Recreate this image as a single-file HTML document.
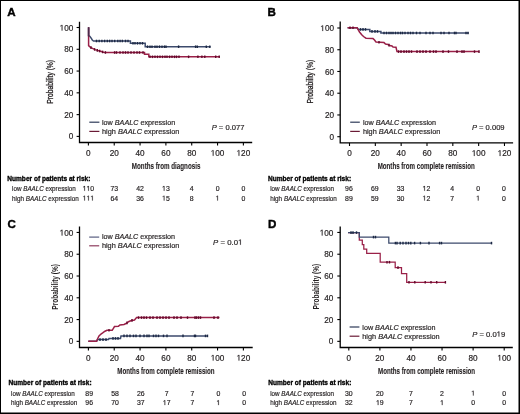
<!DOCTYPE html>
<html><head><meta charset="utf-8"><style>
html,body{margin:0;padding:0;background:#fff;}
body{width:520px;height:414px;overflow:hidden;}
svg{display:block;will-change:transform;font-family:"Liberation Sans", sans-serif;}
</style></head><body>
<svg width="520" height="414" viewBox="0 0 520 414" fill="#231f20">
<style>text{stroke:#231f20;stroke-width:0.18px;}</style>
<rect x="0" y="0" width="520" height="414" fill="#fff"/>
<path d="M79.50 21.70 V142.50 H252.20" fill="none" stroke="#000" stroke-width="1.3"/>
<line x1="76.60" y1="27.50" x2="79.50" y2="27.50" stroke="#000" stroke-width="1.1"/>
<path d="M515 0L515 1237L197 1010L197 1180L530 1409L696 1409L696 0Z" transform="translate(59.62 30.55) scale(0.00400 -0.00400)" stroke="#231f20" stroke-width="0.18" vector-effect="non-scaling-stroke"/>
<text x="73.30" y="30.55" font-size="8.2" text-anchor="end"> 00</text>
<line x1="76.60" y1="49.28" x2="79.50" y2="49.28" stroke="#000" stroke-width="1.1"/>
<text x="73.30" y="52.33" font-size="8.2" text-anchor="end">80</text>
<line x1="76.60" y1="71.06" x2="79.50" y2="71.06" stroke="#000" stroke-width="1.1"/>
<text x="73.30" y="74.11" font-size="8.2" text-anchor="end">60</text>
<line x1="76.60" y1="92.84" x2="79.50" y2="92.84" stroke="#000" stroke-width="1.1"/>
<text x="73.30" y="95.89" font-size="8.2" text-anchor="end">40</text>
<line x1="76.60" y1="114.62" x2="79.50" y2="114.62" stroke="#000" stroke-width="1.1"/>
<text x="73.30" y="117.67" font-size="8.2" text-anchor="end">20</text>
<line x1="76.60" y1="136.40" x2="79.50" y2="136.40" stroke="#000" stroke-width="1.1"/>
<text x="73.30" y="139.45" font-size="8.2" text-anchor="end">0</text>
<line x1="88.40" y1="142.50" x2="88.40" y2="145.60" stroke="#000" stroke-width="1.1"/>
<text x="88.40" y="155.80" font-size="8.2" text-anchor="middle">0</text>
<line x1="114.23" y1="142.50" x2="114.23" y2="145.60" stroke="#000" stroke-width="1.1"/>
<text x="114.23" y="155.80" font-size="8.2" text-anchor="middle">20</text>
<line x1="140.06" y1="142.50" x2="140.06" y2="145.60" stroke="#000" stroke-width="1.1"/>
<text x="140.06" y="155.80" font-size="8.2" text-anchor="middle">40</text>
<line x1="165.89" y1="142.50" x2="165.89" y2="145.60" stroke="#000" stroke-width="1.1"/>
<text x="165.89" y="155.80" font-size="8.2" text-anchor="middle">60</text>
<line x1="191.72" y1="142.50" x2="191.72" y2="145.60" stroke="#000" stroke-width="1.1"/>
<text x="191.72" y="155.80" font-size="8.2" text-anchor="middle">80</text>
<line x1="217.55" y1="142.50" x2="217.55" y2="145.60" stroke="#000" stroke-width="1.1"/>
<path d="M515 0L515 1237L197 1010L197 1180L530 1409L696 1409L696 0Z" transform="translate(210.71 155.80) scale(0.00400 -0.00400)" stroke="#231f20" stroke-width="0.18" vector-effect="non-scaling-stroke"/>
<text x="217.55" y="155.80" font-size="8.2" text-anchor="middle"> 00</text>
<line x1="243.38" y1="142.50" x2="243.38" y2="145.60" stroke="#000" stroke-width="1.1"/>
<path d="M515 0L515 1237L197 1010L197 1180L530 1409L696 1409L696 0Z" transform="translate(236.54 155.80) scale(0.00400 -0.00400)" stroke="#231f20" stroke-width="0.18" vector-effect="non-scaling-stroke"/>
<text x="243.38" y="155.80" font-size="8.2" text-anchor="middle"> 20</text>
<text x="166.10" y="169.40" font-size="8.7" text-anchor="middle" font-weight="bold" textLength="68.5" lengthAdjust="spacingAndGlyphs" style="stroke-width:0.12px">Months from diagnosis</text>
<text x="0" y="0" font-size="8.3" text-anchor="middle" font-weight="normal" textLength="43.8" lengthAdjust="spacingAndGlyphs" style="stroke-width:0.3px" transform="translate(52.90 81.80) rotate(-90)">Probability (%)</text>
<text x="7.30" y="15.60" font-size="11.6" text-anchor="start" font-weight="bold" fill="#000" style="stroke:#000;stroke-width:0.4px">A</text>
<line x1="89.30" y1="122.20" x2="99.40" y2="122.20" stroke="#2e3a58" stroke-width="1.2"/>
<line x1="89.30" y1="131.40" x2="99.40" y2="131.40" stroke="#6a1a35" stroke-width="1.2"/>
<text x="102.00" y="124.60" font-size="7.4" textLength="73.2" lengthAdjust="spacingAndGlyphs">low <tspan font-style="italic">BAALC</tspan> expression</text>
<text x="102.00" y="133.80" font-size="7.4" textLength="77.4" lengthAdjust="spacingAndGlyphs">high <tspan font-style="italic">BAALC</tspan> expression</text>
<text x="211.70" y="130.20" font-size="7.4" textLength="32.7" lengthAdjust="spacingAndGlyphs"><tspan font-style="italic">P</tspan> = 0.077</text>
<text x="7.30" y="180.50" font-size="6.4" text-anchor="start" font-weight="bold" textLength="83.1" lengthAdjust="spacingAndGlyphs" fill="#000" style="stroke:#000;stroke-width:0.3px">Number of patients at risk:</text>
<text x="12.10" y="190.80" font-size="6.9" textLength="63.7" lengthAdjust="spacingAndGlyphs">low <tspan font-style="italic">BAALC</tspan> expression</text>
<text x="12.10" y="200.50" font-size="6.9" textLength="66.7" lengthAdjust="spacingAndGlyphs">high <tspan font-style="italic">BAALC</tspan> expression</text>
<path d="M515 0L515 1237L197 1010L197 1180L530 1409L696 1409L696 0Z" transform="translate(82.64 190.80) scale(0.00337 -0.00337)" stroke="#231f20" stroke-width="0.18" vector-effect="non-scaling-stroke"/>
<path d="M515 0L515 1237L197 1010L197 1180L530 1409L696 1409L696 0Z" transform="translate(86.48 190.80) scale(0.00337 -0.00337)" stroke="#231f20" stroke-width="0.18" vector-effect="non-scaling-stroke"/>
<text x="88.40" y="190.80" font-size="6.9" text-anchor="middle">  0</text>
<text x="114.23" y="190.80" font-size="6.9" text-anchor="middle">73</text>
<text x="140.06" y="190.80" font-size="6.9" text-anchor="middle">42</text>
<path d="M515 0L515 1237L197 1010L197 1180L530 1409L696 1409L696 0Z" transform="translate(162.05 190.80) scale(0.00337 -0.00337)" stroke="#231f20" stroke-width="0.18" vector-effect="non-scaling-stroke"/>
<text x="165.89" y="190.80" font-size="6.9" text-anchor="middle"> 3</text>
<text x="191.72" y="190.80" font-size="6.9" text-anchor="middle">4</text>
<text x="217.55" y="190.80" font-size="6.9" text-anchor="middle">0</text>
<text x="243.38" y="190.80" font-size="6.9" text-anchor="middle">0</text>
<path d="M515 0L515 1237L197 1010L197 1180L530 1409L696 1409L696 0Z" transform="translate(82.64 200.50) scale(0.00337 -0.00337)" stroke="#231f20" stroke-width="0.18" vector-effect="non-scaling-stroke"/>
<path d="M515 0L515 1237L197 1010L197 1180L530 1409L696 1409L696 0Z" transform="translate(86.48 200.50) scale(0.00337 -0.00337)" stroke="#231f20" stroke-width="0.18" vector-effect="non-scaling-stroke"/>
<path d="M515 0L515 1237L197 1010L197 1180L530 1409L696 1409L696 0Z" transform="translate(90.32 200.50) scale(0.00337 -0.00337)" stroke="#231f20" stroke-width="0.18" vector-effect="non-scaling-stroke"/>
<text x="88.40" y="200.50" font-size="6.9" text-anchor="middle">   </text>
<text x="114.23" y="200.50" font-size="6.9" text-anchor="middle">64</text>
<text x="140.06" y="200.50" font-size="6.9" text-anchor="middle">36</text>
<path d="M515 0L515 1237L197 1010L197 1180L530 1409L696 1409L696 0Z" transform="translate(162.05 200.50) scale(0.00337 -0.00337)" stroke="#231f20" stroke-width="0.18" vector-effect="non-scaling-stroke"/>
<text x="165.89" y="200.50" font-size="6.9" text-anchor="middle"> 5</text>
<text x="191.72" y="200.50" font-size="6.9" text-anchor="middle">8</text>
<path d="M515 0L515 1237L197 1010L197 1180L530 1409L696 1409L696 0Z" transform="translate(215.63 200.50) scale(0.00337 -0.00337)" stroke="#231f20" stroke-width="0.18" vector-effect="non-scaling-stroke"/>
<text x="217.55" y="200.50" font-size="6.9" text-anchor="middle"> </text>
<text x="243.38" y="200.50" font-size="6.9" text-anchor="middle">0</text>
<path d="M88.60 27.30 L88.60 35.50 L89.80 36.20 L91.00 37.80 L92.30 40.00 L93.50 41.00 L130.40 41.00 L130.40 43.30 L145.20 43.30 L145.20 46.70 L210.60 46.70" fill="none" stroke="#3c4a6c" stroke-width="1.5" stroke-linejoin="miter"/>
<line x1="96.50" y1="39.70" x2="96.50" y2="42.30" stroke="#1c2844" stroke-width="1.4"/>
<line x1="99.20" y1="39.70" x2="99.20" y2="42.30" stroke="#1c2844" stroke-width="1.4"/>
<line x1="101.90" y1="39.70" x2="101.90" y2="42.30" stroke="#1c2844" stroke-width="1.4"/>
<line x1="104.60" y1="39.70" x2="104.60" y2="42.30" stroke="#1c2844" stroke-width="1.4"/>
<line x1="107.30" y1="39.70" x2="107.30" y2="42.30" stroke="#1c2844" stroke-width="1.4"/>
<line x1="109.60" y1="39.70" x2="109.60" y2="42.30" stroke="#1c2844" stroke-width="1.4"/>
<line x1="112.00" y1="39.70" x2="112.00" y2="42.30" stroke="#1c2844" stroke-width="1.4"/>
<line x1="114.70" y1="39.70" x2="114.70" y2="42.30" stroke="#1c2844" stroke-width="1.4"/>
<line x1="117.80" y1="39.70" x2="117.80" y2="42.30" stroke="#1c2844" stroke-width="1.4"/>
<line x1="120.10" y1="39.70" x2="120.10" y2="42.30" stroke="#1c2844" stroke-width="1.4"/>
<line x1="122.40" y1="39.70" x2="122.40" y2="42.30" stroke="#1c2844" stroke-width="1.4"/>
<line x1="125.50" y1="39.70" x2="125.50" y2="42.30" stroke="#1c2844" stroke-width="1.4"/>
<line x1="128.00" y1="39.70" x2="128.00" y2="42.30" stroke="#1c2844" stroke-width="1.4"/>
<line x1="133.00" y1="42.00" x2="133.00" y2="44.60" stroke="#1c2844" stroke-width="1.4"/>
<line x1="135.00" y1="42.00" x2="135.00" y2="44.60" stroke="#1c2844" stroke-width="1.4"/>
<line x1="137.50" y1="42.00" x2="137.50" y2="44.60" stroke="#1c2844" stroke-width="1.4"/>
<line x1="140.00" y1="42.00" x2="140.00" y2="44.60" stroke="#1c2844" stroke-width="1.4"/>
<line x1="142.50" y1="42.00" x2="142.50" y2="44.60" stroke="#1c2844" stroke-width="1.4"/>
<line x1="147.50" y1="45.40" x2="147.50" y2="48.00" stroke="#1c2844" stroke-width="1.4"/>
<line x1="150.00" y1="45.40" x2="150.00" y2="48.00" stroke="#1c2844" stroke-width="1.4"/>
<line x1="152.00" y1="45.40" x2="152.00" y2="48.00" stroke="#1c2844" stroke-width="1.4"/>
<line x1="155.00" y1="45.40" x2="155.00" y2="48.00" stroke="#1c2844" stroke-width="1.4"/>
<line x1="157.00" y1="45.40" x2="157.00" y2="48.00" stroke="#1c2844" stroke-width="1.4"/>
<line x1="159.50" y1="45.40" x2="159.50" y2="48.00" stroke="#1c2844" stroke-width="1.4"/>
<line x1="162.00" y1="45.40" x2="162.00" y2="48.00" stroke="#1c2844" stroke-width="1.4"/>
<line x1="164.50" y1="45.40" x2="164.50" y2="48.00" stroke="#1c2844" stroke-width="1.4"/>
<line x1="166.00" y1="45.40" x2="166.00" y2="48.00" stroke="#1c2844" stroke-width="1.4"/>
<line x1="178.60" y1="45.40" x2="178.60" y2="48.00" stroke="#1c2844" stroke-width="1.4"/>
<line x1="195.60" y1="45.40" x2="195.60" y2="48.00" stroke="#1c2844" stroke-width="1.4"/>
<line x1="197.30" y1="45.40" x2="197.30" y2="48.00" stroke="#1c2844" stroke-width="1.4"/>
<line x1="206.30" y1="45.40" x2="206.30" y2="48.00" stroke="#1c2844" stroke-width="1.4"/>
<line x1="209.80" y1="45.40" x2="209.80" y2="48.00" stroke="#1c2844" stroke-width="1.4"/>
<path d="M88.60 27.30 L88.60 45.60 L89.60 46.60 L91.00 47.60 L93.00 48.60 L95.00 49.60 L97.50 50.40 L100.50 51.30 L103.50 52.20 L105.50 52.50 L144.50 52.50 L144.50 54.20 L148.80 54.20 L148.80 56.80 L219.80 56.80" fill="none" stroke="#9a2048" stroke-width="1.5" stroke-linejoin="miter"/>
<line x1="91.00" y1="46.30" x2="91.00" y2="48.90" stroke="#62082a" stroke-width="1.4"/>
<line x1="94.60" y1="48.10" x2="94.60" y2="50.70" stroke="#62082a" stroke-width="1.4"/>
<line x1="97.30" y1="49.04" x2="97.30" y2="51.64" stroke="#62082a" stroke-width="1.4"/>
<line x1="99.60" y1="49.73" x2="99.60" y2="52.33" stroke="#62082a" stroke-width="1.4"/>
<line x1="102.60" y1="50.63" x2="102.60" y2="53.23" stroke="#62082a" stroke-width="1.4"/>
<line x1="105.40" y1="51.19" x2="105.40" y2="53.78" stroke="#62082a" stroke-width="1.4"/>
<line x1="114.60" y1="51.20" x2="114.60" y2="53.80" stroke="#62082a" stroke-width="1.4"/>
<line x1="116.50" y1="51.20" x2="116.50" y2="53.80" stroke="#62082a" stroke-width="1.4"/>
<line x1="120.00" y1="51.20" x2="120.00" y2="53.80" stroke="#62082a" stroke-width="1.4"/>
<line x1="123.00" y1="51.20" x2="123.00" y2="53.80" stroke="#62082a" stroke-width="1.4"/>
<line x1="125.50" y1="51.20" x2="125.50" y2="53.80" stroke="#62082a" stroke-width="1.4"/>
<line x1="128.00" y1="51.20" x2="128.00" y2="53.80" stroke="#62082a" stroke-width="1.4"/>
<line x1="131.00" y1="51.20" x2="131.00" y2="53.80" stroke="#62082a" stroke-width="1.4"/>
<line x1="134.00" y1="51.20" x2="134.00" y2="53.80" stroke="#62082a" stroke-width="1.4"/>
<line x1="137.00" y1="51.20" x2="137.00" y2="53.80" stroke="#62082a" stroke-width="1.4"/>
<line x1="139.50" y1="51.20" x2="139.50" y2="53.80" stroke="#62082a" stroke-width="1.4"/>
<line x1="143.00" y1="51.20" x2="143.00" y2="53.80" stroke="#62082a" stroke-width="1.4"/>
<line x1="150.00" y1="55.50" x2="150.00" y2="58.10" stroke="#62082a" stroke-width="1.4"/>
<line x1="152.50" y1="55.50" x2="152.50" y2="58.10" stroke="#62082a" stroke-width="1.4"/>
<line x1="155.00" y1="55.50" x2="155.00" y2="58.10" stroke="#62082a" stroke-width="1.4"/>
<line x1="157.50" y1="55.50" x2="157.50" y2="58.10" stroke="#62082a" stroke-width="1.4"/>
<line x1="160.00" y1="55.50" x2="160.00" y2="58.10" stroke="#62082a" stroke-width="1.4"/>
<line x1="162.50" y1="55.50" x2="162.50" y2="58.10" stroke="#62082a" stroke-width="1.4"/>
<line x1="165.00" y1="55.50" x2="165.00" y2="58.10" stroke="#62082a" stroke-width="1.4"/>
<line x1="167.00" y1="55.50" x2="167.00" y2="58.10" stroke="#62082a" stroke-width="1.4"/>
<line x1="169.60" y1="55.50" x2="169.60" y2="58.10" stroke="#62082a" stroke-width="1.4"/>
<line x1="172.00" y1="55.50" x2="172.00" y2="58.10" stroke="#62082a" stroke-width="1.4"/>
<line x1="174.50" y1="55.50" x2="174.50" y2="58.10" stroke="#62082a" stroke-width="1.4"/>
<line x1="176.50" y1="55.50" x2="176.50" y2="58.10" stroke="#62082a" stroke-width="1.4"/>
<line x1="179.00" y1="55.50" x2="179.00" y2="58.10" stroke="#62082a" stroke-width="1.4"/>
<line x1="188.60" y1="55.50" x2="188.60" y2="58.10" stroke="#62082a" stroke-width="1.4"/>
<line x1="197.90" y1="55.50" x2="197.90" y2="58.10" stroke="#62082a" stroke-width="1.4"/>
<line x1="201.90" y1="55.50" x2="201.90" y2="58.10" stroke="#62082a" stroke-width="1.4"/>
<line x1="204.80" y1="55.50" x2="204.80" y2="58.10" stroke="#62082a" stroke-width="1.4"/>
<line x1="215.70" y1="55.50" x2="215.70" y2="58.10" stroke="#62082a" stroke-width="1.4"/>
<line x1="219.20" y1="55.50" x2="219.20" y2="58.10" stroke="#62082a" stroke-width="1.4"/>
<path d="M340.20 21.40 V142.90 H513.10" fill="none" stroke="#000" stroke-width="1.3"/>
<line x1="337.30" y1="28.00" x2="340.20" y2="28.00" stroke="#000" stroke-width="1.1"/>
<path d="M515 0L515 1237L197 1010L197 1180L530 1409L696 1409L696 0Z" transform="translate(320.32 31.05) scale(0.00400 -0.00400)" stroke="#231f20" stroke-width="0.18" vector-effect="non-scaling-stroke"/>
<text x="334.00" y="31.05" font-size="8.2" text-anchor="end"> 00</text>
<line x1="337.30" y1="49.74" x2="340.20" y2="49.74" stroke="#000" stroke-width="1.1"/>
<text x="334.00" y="52.79" font-size="8.2" text-anchor="end">80</text>
<line x1="337.30" y1="71.48" x2="340.20" y2="71.48" stroke="#000" stroke-width="1.1"/>
<text x="334.00" y="74.53" font-size="8.2" text-anchor="end">60</text>
<line x1="337.30" y1="93.22" x2="340.20" y2="93.22" stroke="#000" stroke-width="1.1"/>
<text x="334.00" y="96.27" font-size="8.2" text-anchor="end">40</text>
<line x1="337.30" y1="114.96" x2="340.20" y2="114.96" stroke="#000" stroke-width="1.1"/>
<text x="334.00" y="118.01" font-size="8.2" text-anchor="end">20</text>
<line x1="337.30" y1="136.70" x2="340.20" y2="136.70" stroke="#000" stroke-width="1.1"/>
<text x="334.00" y="139.75" font-size="8.2" text-anchor="end">0</text>
<line x1="349.50" y1="142.90" x2="349.50" y2="146.00" stroke="#000" stroke-width="1.1"/>
<text x="349.50" y="156.00" font-size="8.2" text-anchor="middle">0</text>
<line x1="375.33" y1="142.90" x2="375.33" y2="146.00" stroke="#000" stroke-width="1.1"/>
<text x="375.33" y="156.00" font-size="8.2" text-anchor="middle">20</text>
<line x1="401.16" y1="142.90" x2="401.16" y2="146.00" stroke="#000" stroke-width="1.1"/>
<text x="401.16" y="156.00" font-size="8.2" text-anchor="middle">40</text>
<line x1="426.99" y1="142.90" x2="426.99" y2="146.00" stroke="#000" stroke-width="1.1"/>
<text x="426.99" y="156.00" font-size="8.2" text-anchor="middle">60</text>
<line x1="452.82" y1="142.90" x2="452.82" y2="146.00" stroke="#000" stroke-width="1.1"/>
<text x="452.82" y="156.00" font-size="8.2" text-anchor="middle">80</text>
<line x1="478.65" y1="142.90" x2="478.65" y2="146.00" stroke="#000" stroke-width="1.1"/>
<path d="M515 0L515 1237L197 1010L197 1180L530 1409L696 1409L696 0Z" transform="translate(471.81 156.00) scale(0.00400 -0.00400)" stroke="#231f20" stroke-width="0.18" vector-effect="non-scaling-stroke"/>
<text x="478.65" y="156.00" font-size="8.2" text-anchor="middle"> 00</text>
<line x1="504.48" y1="142.90" x2="504.48" y2="146.00" stroke="#000" stroke-width="1.1"/>
<path d="M515 0L515 1237L197 1010L197 1180L530 1409L696 1409L696 0Z" transform="translate(497.64 156.00) scale(0.00400 -0.00400)" stroke="#231f20" stroke-width="0.18" vector-effect="non-scaling-stroke"/>
<text x="504.48" y="156.00" font-size="8.2" text-anchor="middle"> 20</text>
<text x="426.20" y="169.30" font-size="8.7" text-anchor="middle" font-weight="bold" textLength="97.1" lengthAdjust="spacingAndGlyphs" style="stroke-width:0.12px">Months from complete remission</text>
<text x="0" y="0" font-size="8.3" text-anchor="middle" font-weight="normal" textLength="43.8" lengthAdjust="spacingAndGlyphs" style="stroke-width:0.3px" transform="translate(313.40 81.60) rotate(-90)">Probability (%)</text>
<text x="267.60" y="15.50" font-size="11.6" text-anchor="start" font-weight="bold" fill="#000" style="stroke:#000;stroke-width:0.4px">B</text>
<line x1="350.20" y1="122.20" x2="359.80" y2="122.20" stroke="#2e3a58" stroke-width="1.2"/>
<line x1="350.20" y1="131.40" x2="359.80" y2="131.40" stroke="#6a1a35" stroke-width="1.2"/>
<text x="362.90" y="124.60" font-size="7.4" textLength="73.2" lengthAdjust="spacingAndGlyphs">low <tspan font-style="italic">BAALC</tspan> expression</text>
<text x="362.90" y="133.80" font-size="7.4" textLength="77.4" lengthAdjust="spacingAndGlyphs">high <tspan font-style="italic">BAALC</tspan> expression</text>
<text x="471.90" y="130.20" font-size="7.4" textLength="32.7" lengthAdjust="spacingAndGlyphs"><tspan font-style="italic">P</tspan> = 0.009</text>
<text x="268.00" y="180.50" font-size="6.4" text-anchor="start" font-weight="bold" textLength="83.1" lengthAdjust="spacingAndGlyphs" fill="#000" style="stroke:#000;stroke-width:0.3px">Number of patients at risk:</text>
<text x="270.20" y="190.80" font-size="6.9" textLength="63.7" lengthAdjust="spacingAndGlyphs">low <tspan font-style="italic">BAALC</tspan> expression</text>
<text x="270.20" y="200.50" font-size="6.9" textLength="66.7" lengthAdjust="spacingAndGlyphs">high <tspan font-style="italic">BAALC</tspan> expression</text>
<text x="348.90" y="190.80" font-size="6.9" text-anchor="middle">96</text>
<text x="374.73" y="190.80" font-size="6.9" text-anchor="middle">69</text>
<text x="400.56" y="190.80" font-size="6.9" text-anchor="middle">33</text>
<path d="M515 0L515 1237L197 1010L197 1180L530 1409L696 1409L696 0Z" transform="translate(422.55 190.80) scale(0.00337 -0.00337)" stroke="#231f20" stroke-width="0.18" vector-effect="non-scaling-stroke"/>
<text x="426.39" y="190.80" font-size="6.9" text-anchor="middle"> 2</text>
<text x="452.22" y="190.80" font-size="6.9" text-anchor="middle">4</text>
<text x="478.05" y="190.80" font-size="6.9" text-anchor="middle">0</text>
<text x="503.88" y="190.80" font-size="6.9" text-anchor="middle">0</text>
<text x="348.90" y="200.50" font-size="6.9" text-anchor="middle">89</text>
<text x="374.73" y="200.50" font-size="6.9" text-anchor="middle">59</text>
<text x="400.56" y="200.50" font-size="6.9" text-anchor="middle">30</text>
<path d="M515 0L515 1237L197 1010L197 1180L530 1409L696 1409L696 0Z" transform="translate(422.55 200.50) scale(0.00337 -0.00337)" stroke="#231f20" stroke-width="0.18" vector-effect="non-scaling-stroke"/>
<text x="426.39" y="200.50" font-size="6.9" text-anchor="middle"> 2</text>
<text x="452.22" y="200.50" font-size="6.9" text-anchor="middle">7</text>
<path d="M515 0L515 1237L197 1010L197 1180L530 1409L696 1409L696 0Z" transform="translate(476.13 200.50) scale(0.00337 -0.00337)" stroke="#231f20" stroke-width="0.18" vector-effect="non-scaling-stroke"/>
<text x="478.05" y="200.50" font-size="6.9" text-anchor="middle"> </text>
<text x="503.88" y="200.50" font-size="6.9" text-anchor="middle">0</text>
<path d="M347.60 27.80 L357.10 27.80 L358.50 29.40 L369.80 29.40 L369.80 31.40 L380.90 31.40 L380.90 33.00 L468.80 33.00" fill="none" stroke="#3c4a6c" stroke-width="1.5" stroke-linejoin="miter"/>
<line x1="360.50" y1="28.10" x2="360.50" y2="30.70" stroke="#1c2844" stroke-width="1.4"/>
<line x1="363.00" y1="28.10" x2="363.00" y2="30.70" stroke="#1c2844" stroke-width="1.4"/>
<line x1="365.50" y1="28.10" x2="365.50" y2="30.70" stroke="#1c2844" stroke-width="1.4"/>
<line x1="372.00" y1="30.10" x2="372.00" y2="32.70" stroke="#1c2844" stroke-width="1.4"/>
<line x1="375.00" y1="30.10" x2="375.00" y2="32.70" stroke="#1c2844" stroke-width="1.4"/>
<line x1="377.50" y1="30.10" x2="377.50" y2="32.70" stroke="#1c2844" stroke-width="1.4"/>
<line x1="384.00" y1="31.70" x2="384.00" y2="34.30" stroke="#1c2844" stroke-width="1.4"/>
<line x1="386.50" y1="31.70" x2="386.50" y2="34.30" stroke="#1c2844" stroke-width="1.4"/>
<line x1="389.00" y1="31.70" x2="389.00" y2="34.30" stroke="#1c2844" stroke-width="1.4"/>
<line x1="391.00" y1="31.70" x2="391.00" y2="34.30" stroke="#1c2844" stroke-width="1.4"/>
<line x1="393.00" y1="31.70" x2="393.00" y2="34.30" stroke="#1c2844" stroke-width="1.4"/>
<line x1="395.50" y1="31.70" x2="395.50" y2="34.30" stroke="#1c2844" stroke-width="1.4"/>
<line x1="398.00" y1="31.70" x2="398.00" y2="34.30" stroke="#1c2844" stroke-width="1.4"/>
<line x1="400.50" y1="31.70" x2="400.50" y2="34.30" stroke="#1c2844" stroke-width="1.4"/>
<line x1="402.50" y1="31.70" x2="402.50" y2="34.30" stroke="#1c2844" stroke-width="1.4"/>
<line x1="405.00" y1="31.70" x2="405.00" y2="34.30" stroke="#1c2844" stroke-width="1.4"/>
<line x1="408.00" y1="31.70" x2="408.00" y2="34.30" stroke="#1c2844" stroke-width="1.4"/>
<line x1="410.50" y1="31.70" x2="410.50" y2="34.30" stroke="#1c2844" stroke-width="1.4"/>
<line x1="413.00" y1="31.70" x2="413.00" y2="34.30" stroke="#1c2844" stroke-width="1.4"/>
<line x1="416.50" y1="31.70" x2="416.50" y2="34.30" stroke="#1c2844" stroke-width="1.4"/>
<line x1="420.00" y1="31.70" x2="420.00" y2="34.30" stroke="#1c2844" stroke-width="1.4"/>
<line x1="426.00" y1="31.70" x2="426.00" y2="34.30" stroke="#1c2844" stroke-width="1.4"/>
<line x1="430.00" y1="31.70" x2="430.00" y2="34.30" stroke="#1c2844" stroke-width="1.4"/>
<line x1="433.00" y1="31.70" x2="433.00" y2="34.30" stroke="#1c2844" stroke-width="1.4"/>
<line x1="441.00" y1="31.70" x2="441.00" y2="34.30" stroke="#1c2844" stroke-width="1.4"/>
<line x1="444.00" y1="31.70" x2="444.00" y2="34.30" stroke="#1c2844" stroke-width="1.4"/>
<line x1="449.00" y1="31.70" x2="449.00" y2="34.30" stroke="#1c2844" stroke-width="1.4"/>
<line x1="454.50" y1="31.70" x2="454.50" y2="34.30" stroke="#1c2844" stroke-width="1.4"/>
<line x1="456.00" y1="31.70" x2="456.00" y2="34.30" stroke="#1c2844" stroke-width="1.4"/>
<line x1="466.00" y1="31.70" x2="466.00" y2="34.30" stroke="#1c2844" stroke-width="1.4"/>
<line x1="468.00" y1="31.70" x2="468.00" y2="34.30" stroke="#1c2844" stroke-width="1.4"/>
<path d="M347.60 27.80 L357.10 27.80 L358.00 29.50 L359.50 32.00 L361.50 34.50 L363.50 36.50 L366.00 38.20 L373.00 38.60 L374.50 40.00 L376.00 42.00 L384.00 42.60 L385.50 44.00 L388.00 44.50 L389.50 45.50 L392.00 46.00 L393.00 47.00 L396.00 47.30 L397.00 51.60 L479.20 51.60" fill="none" stroke="#9a2048" stroke-width="1.5" stroke-linejoin="miter"/>
<line x1="350.00" y1="26.50" x2="350.00" y2="29.10" stroke="#62082a" stroke-width="1.4"/>
<line x1="353.00" y1="26.50" x2="353.00" y2="29.10" stroke="#62082a" stroke-width="1.4"/>
<line x1="379.00" y1="40.93" x2="379.00" y2="43.52" stroke="#62082a" stroke-width="1.4"/>
<line x1="389.00" y1="43.87" x2="389.00" y2="46.47" stroke="#62082a" stroke-width="1.4"/>
<line x1="398.50" y1="50.30" x2="398.50" y2="52.90" stroke="#62082a" stroke-width="1.4"/>
<line x1="401.00" y1="50.30" x2="401.00" y2="52.90" stroke="#62082a" stroke-width="1.4"/>
<line x1="404.00" y1="50.30" x2="404.00" y2="52.90" stroke="#62082a" stroke-width="1.4"/>
<line x1="406.50" y1="50.30" x2="406.50" y2="52.90" stroke="#62082a" stroke-width="1.4"/>
<line x1="409.00" y1="50.30" x2="409.00" y2="52.90" stroke="#62082a" stroke-width="1.4"/>
<line x1="411.50" y1="50.30" x2="411.50" y2="52.90" stroke="#62082a" stroke-width="1.4"/>
<line x1="417.00" y1="50.30" x2="417.00" y2="52.90" stroke="#62082a" stroke-width="1.4"/>
<line x1="420.00" y1="50.30" x2="420.00" y2="52.90" stroke="#62082a" stroke-width="1.4"/>
<line x1="423.00" y1="50.30" x2="423.00" y2="52.90" stroke="#62082a" stroke-width="1.4"/>
<line x1="426.00" y1="50.30" x2="426.00" y2="52.90" stroke="#62082a" stroke-width="1.4"/>
<line x1="430.00" y1="50.30" x2="430.00" y2="52.90" stroke="#62082a" stroke-width="1.4"/>
<line x1="433.50" y1="50.30" x2="433.50" y2="52.90" stroke="#62082a" stroke-width="1.4"/>
<line x1="436.00" y1="50.30" x2="436.00" y2="52.90" stroke="#62082a" stroke-width="1.4"/>
<line x1="443.00" y1="50.30" x2="443.00" y2="52.90" stroke="#62082a" stroke-width="1.4"/>
<line x1="448.50" y1="50.30" x2="448.50" y2="52.90" stroke="#62082a" stroke-width="1.4"/>
<line x1="457.00" y1="50.30" x2="457.00" y2="52.90" stroke="#62082a" stroke-width="1.4"/>
<line x1="462.00" y1="50.30" x2="462.00" y2="52.90" stroke="#62082a" stroke-width="1.4"/>
<line x1="464.00" y1="50.30" x2="464.00" y2="52.90" stroke="#62082a" stroke-width="1.4"/>
<line x1="474.50" y1="50.30" x2="474.50" y2="52.90" stroke="#62082a" stroke-width="1.4"/>
<line x1="479.00" y1="50.30" x2="479.00" y2="52.90" stroke="#62082a" stroke-width="1.4"/>
<path d="M79.50 226.60 V347.50 H252.70" fill="none" stroke="#000" stroke-width="1.3"/>
<line x1="76.60" y1="232.45" x2="79.50" y2="232.45" stroke="#000" stroke-width="1.1"/>
<path d="M515 0L515 1237L197 1010L197 1180L530 1409L696 1409L696 0Z" transform="translate(59.62 235.50) scale(0.00400 -0.00400)" stroke="#231f20" stroke-width="0.18" vector-effect="non-scaling-stroke"/>
<text x="73.30" y="235.50" font-size="8.2" text-anchor="end"> 00</text>
<line x1="76.60" y1="254.23" x2="79.50" y2="254.23" stroke="#000" stroke-width="1.1"/>
<text x="73.30" y="257.28" font-size="8.2" text-anchor="end">80</text>
<line x1="76.60" y1="276.01" x2="79.50" y2="276.01" stroke="#000" stroke-width="1.1"/>
<text x="73.30" y="279.06" font-size="8.2" text-anchor="end">60</text>
<line x1="76.60" y1="297.79" x2="79.50" y2="297.79" stroke="#000" stroke-width="1.1"/>
<text x="73.30" y="300.84" font-size="8.2" text-anchor="end">40</text>
<line x1="76.60" y1="319.57" x2="79.50" y2="319.57" stroke="#000" stroke-width="1.1"/>
<text x="73.30" y="322.62" font-size="8.2" text-anchor="end">20</text>
<line x1="76.60" y1="341.35" x2="79.50" y2="341.35" stroke="#000" stroke-width="1.1"/>
<text x="73.30" y="344.40" font-size="8.2" text-anchor="end">0</text>
<line x1="88.40" y1="347.50" x2="88.40" y2="350.60" stroke="#000" stroke-width="1.1"/>
<text x="88.40" y="360.60" font-size="8.2" text-anchor="middle">0</text>
<line x1="114.23" y1="347.50" x2="114.23" y2="350.60" stroke="#000" stroke-width="1.1"/>
<text x="114.23" y="360.60" font-size="8.2" text-anchor="middle">20</text>
<line x1="140.06" y1="347.50" x2="140.06" y2="350.60" stroke="#000" stroke-width="1.1"/>
<text x="140.06" y="360.60" font-size="8.2" text-anchor="middle">40</text>
<line x1="165.89" y1="347.50" x2="165.89" y2="350.60" stroke="#000" stroke-width="1.1"/>
<text x="165.89" y="360.60" font-size="8.2" text-anchor="middle">60</text>
<line x1="191.72" y1="347.50" x2="191.72" y2="350.60" stroke="#000" stroke-width="1.1"/>
<text x="191.72" y="360.60" font-size="8.2" text-anchor="middle">80</text>
<line x1="217.55" y1="347.50" x2="217.55" y2="350.60" stroke="#000" stroke-width="1.1"/>
<path d="M515 0L515 1237L197 1010L197 1180L530 1409L696 1409L696 0Z" transform="translate(210.71 360.60) scale(0.00400 -0.00400)" stroke="#231f20" stroke-width="0.18" vector-effect="non-scaling-stroke"/>
<text x="217.55" y="360.60" font-size="8.2" text-anchor="middle"> 00</text>
<line x1="243.38" y1="347.50" x2="243.38" y2="350.60" stroke="#000" stroke-width="1.1"/>
<path d="M515 0L515 1237L197 1010L197 1180L530 1409L696 1409L696 0Z" transform="translate(236.54 360.60) scale(0.00400 -0.00400)" stroke="#231f20" stroke-width="0.18" vector-effect="non-scaling-stroke"/>
<text x="243.38" y="360.60" font-size="8.2" text-anchor="middle"> 20</text>
<text x="166.00" y="373.70" font-size="8.7" text-anchor="middle" font-weight="bold" textLength="97.3" lengthAdjust="spacingAndGlyphs" style="stroke-width:0.12px">Months from complete remission</text>
<text x="0" y="0" font-size="8.2" text-anchor="middle" font-weight="bold" textLength="45.6" lengthAdjust="spacingAndGlyphs" style="stroke-width:0px" transform="translate(57.70 286.90) rotate(-90)">Probability (%)</text>
<text x="7.40" y="228.00" font-size="11.6" text-anchor="start" font-weight="bold" fill="#000" style="stroke:#000;stroke-width:0.4px">C</text>
<line x1="89.20" y1="237.10" x2="99.20" y2="237.10" stroke="#585e80" stroke-width="1.2"/>
<line x1="89.20" y1="245.80" x2="99.20" y2="245.80" stroke="#8e3c5e" stroke-width="1.2"/>
<text x="101.90" y="239.00" font-size="7.4" textLength="73.2" lengthAdjust="spacingAndGlyphs">low <tspan font-style="italic">BAALC</tspan> expression</text>
<text x="101.90" y="247.50" font-size="7.4" textLength="77.4" lengthAdjust="spacingAndGlyphs">high <tspan font-style="italic">BAALC</tspan> expression</text>
<path d="M515 0L515 1237L197 1010L197 1180L530 1409L696 1409L696 0Z" transform="translate(238.06 244.70) scale(0.00381 -0.00361)" stroke="#231f20" stroke-width="0.18" vector-effect="non-scaling-stroke"/>
<text x="213.10" y="244.70" font-size="7.4" textLength="29.3" lengthAdjust="spacingAndGlyphs"><tspan font-style="italic">P</tspan> = 0.0 </text>
<text x="8.50" y="385.20" font-size="6.4" text-anchor="start" font-weight="bold" textLength="83.1" lengthAdjust="spacingAndGlyphs" fill="#000" style="stroke:#000;stroke-width:0.3px">Number of patients at risk:</text>
<text x="11.10" y="395.50" font-size="6.9" textLength="63.7" lengthAdjust="spacingAndGlyphs">low <tspan font-style="italic">BAALC</tspan> expression</text>
<text x="11.10" y="405.10" font-size="6.9" textLength="66.2" lengthAdjust="spacingAndGlyphs">high <tspan font-style="italic">BAALC</tspan> expression</text>
<text x="89.20" y="395.50" font-size="6.9" text-anchor="middle">89</text>
<text x="115.03" y="395.50" font-size="6.9" text-anchor="middle">58</text>
<text x="140.86" y="395.50" font-size="6.9" text-anchor="middle">26</text>
<text x="166.69" y="395.50" font-size="6.9" text-anchor="middle">7</text>
<text x="192.52" y="395.50" font-size="6.9" text-anchor="middle">7</text>
<text x="218.35" y="395.50" font-size="6.9" text-anchor="middle">0</text>
<text x="244.18" y="395.50" font-size="6.9" text-anchor="middle">0</text>
<text x="89.20" y="405.10" font-size="6.9" text-anchor="middle">96</text>
<text x="115.03" y="405.10" font-size="6.9" text-anchor="middle">70</text>
<text x="140.86" y="405.10" font-size="6.9" text-anchor="middle">37</text>
<path d="M515 0L515 1237L197 1010L197 1180L530 1409L696 1409L696 0Z" transform="translate(162.85 405.10) scale(0.00337 -0.00337)" stroke="#231f20" stroke-width="0.18" vector-effect="non-scaling-stroke"/>
<text x="166.69" y="405.10" font-size="6.9" text-anchor="middle"> 7</text>
<text x="192.52" y="405.10" font-size="6.9" text-anchor="middle">7</text>
<path d="M515 0L515 1237L197 1010L197 1180L530 1409L696 1409L696 0Z" transform="translate(216.43 405.10) scale(0.00337 -0.00337)" stroke="#231f20" stroke-width="0.18" vector-effect="non-scaling-stroke"/>
<text x="218.35" y="405.10" font-size="6.9" text-anchor="middle"> </text>
<text x="244.18" y="405.10" font-size="6.9" text-anchor="middle">0</text>
<path d="M88.30 341.20 L96.60 341.20 L97.50 339.60 L108.50 339.60 L109.00 338.40 L120.50 338.40 L121.00 335.90 L207.90 335.90" fill="none" stroke="#3c4a6c" stroke-width="1.5" stroke-linejoin="miter"/>
<line x1="100.00" y1="338.30" x2="100.00" y2="340.90" stroke="#1c2844" stroke-width="1.4"/>
<line x1="103.00" y1="338.30" x2="103.00" y2="340.90" stroke="#1c2844" stroke-width="1.4"/>
<line x1="106.00" y1="338.30" x2="106.00" y2="340.90" stroke="#1c2844" stroke-width="1.4"/>
<line x1="113.00" y1="337.10" x2="113.00" y2="339.70" stroke="#1c2844" stroke-width="1.4"/>
<line x1="115.50" y1="337.10" x2="115.50" y2="339.70" stroke="#1c2844" stroke-width="1.4"/>
<line x1="118.00" y1="337.10" x2="118.00" y2="339.70" stroke="#1c2844" stroke-width="1.4"/>
<line x1="124.00" y1="334.60" x2="124.00" y2="337.20" stroke="#1c2844" stroke-width="1.4"/>
<line x1="127.00" y1="334.60" x2="127.00" y2="337.20" stroke="#1c2844" stroke-width="1.4"/>
<line x1="130.00" y1="334.60" x2="130.00" y2="337.20" stroke="#1c2844" stroke-width="1.4"/>
<line x1="133.50" y1="334.60" x2="133.50" y2="337.20" stroke="#1c2844" stroke-width="1.4"/>
<line x1="136.00" y1="334.60" x2="136.00" y2="337.20" stroke="#1c2844" stroke-width="1.4"/>
<line x1="140.00" y1="334.60" x2="140.00" y2="337.20" stroke="#1c2844" stroke-width="1.4"/>
<line x1="144.00" y1="334.60" x2="144.00" y2="337.20" stroke="#1c2844" stroke-width="1.4"/>
<line x1="147.00" y1="334.60" x2="147.00" y2="337.20" stroke="#1c2844" stroke-width="1.4"/>
<line x1="149.00" y1="334.60" x2="149.00" y2="337.20" stroke="#1c2844" stroke-width="1.4"/>
<line x1="153.50" y1="334.60" x2="153.50" y2="337.20" stroke="#1c2844" stroke-width="1.4"/>
<line x1="156.00" y1="334.60" x2="156.00" y2="337.20" stroke="#1c2844" stroke-width="1.4"/>
<line x1="158.50" y1="334.60" x2="158.50" y2="337.20" stroke="#1c2844" stroke-width="1.4"/>
<line x1="163.50" y1="334.60" x2="163.50" y2="337.20" stroke="#1c2844" stroke-width="1.4"/>
<line x1="167.00" y1="334.60" x2="167.00" y2="337.20" stroke="#1c2844" stroke-width="1.4"/>
<line x1="183.00" y1="334.60" x2="183.00" y2="337.20" stroke="#1c2844" stroke-width="1.4"/>
<line x1="194.50" y1="334.60" x2="194.50" y2="337.20" stroke="#1c2844" stroke-width="1.4"/>
<line x1="195.50" y1="334.60" x2="195.50" y2="337.20" stroke="#1c2844" stroke-width="1.4"/>
<line x1="205.50" y1="334.60" x2="205.50" y2="337.20" stroke="#1c2844" stroke-width="1.4"/>
<line x1="207.50" y1="334.60" x2="207.50" y2="337.20" stroke="#1c2844" stroke-width="1.4"/>
<path d="M88.30 341.20 L96.60 341.20 L97.50 339.00 L99.00 336.00 L101.00 334.00 L103.00 332.70 L105.00 331.20 L107.00 330.30 L112.20 330.30 L114.50 326.50 L118.50 326.20 L120.00 325.00 L124.00 324.50 L126.00 323.50 L129.00 321.50 L131.50 320.50 L134.50 320.00 L136.60 317.60 L219.50 317.60" fill="none" stroke="#9a2048" stroke-width="1.5" stroke-linejoin="miter"/>
<line x1="109.00" y1="329.00" x2="109.00" y2="331.60" stroke="#62082a" stroke-width="1.4"/>
<line x1="127.00" y1="321.53" x2="127.00" y2="324.13" stroke="#62082a" stroke-width="1.4"/>
<line x1="132.00" y1="319.12" x2="132.00" y2="321.72" stroke="#62082a" stroke-width="1.4"/>
<line x1="138.50" y1="316.30" x2="138.50" y2="318.90" stroke="#62082a" stroke-width="1.4"/>
<line x1="141.50" y1="316.30" x2="141.50" y2="318.90" stroke="#62082a" stroke-width="1.4"/>
<line x1="144.00" y1="316.30" x2="144.00" y2="318.90" stroke="#62082a" stroke-width="1.4"/>
<line x1="146.50" y1="316.30" x2="146.50" y2="318.90" stroke="#62082a" stroke-width="1.4"/>
<line x1="150.00" y1="316.30" x2="150.00" y2="318.90" stroke="#62082a" stroke-width="1.4"/>
<line x1="153.00" y1="316.30" x2="153.00" y2="318.90" stroke="#62082a" stroke-width="1.4"/>
<line x1="157.00" y1="316.30" x2="157.00" y2="318.90" stroke="#62082a" stroke-width="1.4"/>
<line x1="160.00" y1="316.30" x2="160.00" y2="318.90" stroke="#62082a" stroke-width="1.4"/>
<line x1="163.00" y1="316.30" x2="163.00" y2="318.90" stroke="#62082a" stroke-width="1.4"/>
<line x1="166.00" y1="316.30" x2="166.00" y2="318.90" stroke="#62082a" stroke-width="1.4"/>
<line x1="169.00" y1="316.30" x2="169.00" y2="318.90" stroke="#62082a" stroke-width="1.4"/>
<line x1="174.00" y1="316.30" x2="174.00" y2="318.90" stroke="#62082a" stroke-width="1.4"/>
<line x1="177.00" y1="316.30" x2="177.00" y2="318.90" stroke="#62082a" stroke-width="1.4"/>
<line x1="181.00" y1="316.30" x2="181.00" y2="318.90" stroke="#62082a" stroke-width="1.4"/>
<line x1="187.50" y1="316.30" x2="187.50" y2="318.90" stroke="#62082a" stroke-width="1.4"/>
<line x1="195.00" y1="316.30" x2="195.00" y2="318.90" stroke="#62082a" stroke-width="1.4"/>
<line x1="196.50" y1="316.30" x2="196.50" y2="318.90" stroke="#62082a" stroke-width="1.4"/>
<line x1="198.50" y1="316.30" x2="198.50" y2="318.90" stroke="#62082a" stroke-width="1.4"/>
<line x1="200.50" y1="316.30" x2="200.50" y2="318.90" stroke="#62082a" stroke-width="1.4"/>
<line x1="214.00" y1="316.30" x2="214.00" y2="318.90" stroke="#62082a" stroke-width="1.4"/>
<line x1="218.00" y1="316.30" x2="218.00" y2="318.90" stroke="#62082a" stroke-width="1.4"/>
<path d="M340.20 226.60 V347.50 H512.80" fill="none" stroke="#000" stroke-width="1.3"/>
<line x1="337.30" y1="232.45" x2="340.20" y2="232.45" stroke="#000" stroke-width="1.1"/>
<path d="M515 0L515 1237L197 1010L197 1180L530 1409L696 1409L696 0Z" transform="translate(319.72 235.50) scale(0.00400 -0.00400)" stroke="#231f20" stroke-width="0.18" vector-effect="non-scaling-stroke"/>
<text x="333.40" y="235.50" font-size="8.2" text-anchor="end"> 00</text>
<line x1="337.30" y1="254.23" x2="340.20" y2="254.23" stroke="#000" stroke-width="1.1"/>
<text x="333.40" y="257.28" font-size="8.2" text-anchor="end">80</text>
<line x1="337.30" y1="276.01" x2="340.20" y2="276.01" stroke="#000" stroke-width="1.1"/>
<text x="333.40" y="279.06" font-size="8.2" text-anchor="end">60</text>
<line x1="337.30" y1="297.79" x2="340.20" y2="297.79" stroke="#000" stroke-width="1.1"/>
<text x="333.40" y="300.84" font-size="8.2" text-anchor="end">40</text>
<line x1="337.30" y1="319.57" x2="340.20" y2="319.57" stroke="#000" stroke-width="1.1"/>
<text x="333.40" y="322.62" font-size="8.2" text-anchor="end">20</text>
<line x1="337.30" y1="341.35" x2="340.20" y2="341.35" stroke="#000" stroke-width="1.1"/>
<text x="333.40" y="344.40" font-size="8.2" text-anchor="end">0</text>
<line x1="348.80" y1="347.50" x2="348.80" y2="350.60" stroke="#000" stroke-width="1.1"/>
<text x="348.80" y="360.60" font-size="8.2" text-anchor="middle">0</text>
<line x1="379.88" y1="347.50" x2="379.88" y2="350.60" stroke="#000" stroke-width="1.1"/>
<text x="379.88" y="360.60" font-size="8.2" text-anchor="middle">20</text>
<line x1="410.96" y1="347.50" x2="410.96" y2="350.60" stroke="#000" stroke-width="1.1"/>
<text x="410.96" y="360.60" font-size="8.2" text-anchor="middle">40</text>
<line x1="442.04" y1="347.50" x2="442.04" y2="350.60" stroke="#000" stroke-width="1.1"/>
<text x="442.04" y="360.60" font-size="8.2" text-anchor="middle">60</text>
<line x1="473.12" y1="347.50" x2="473.12" y2="350.60" stroke="#000" stroke-width="1.1"/>
<text x="473.12" y="360.60" font-size="8.2" text-anchor="middle">80</text>
<line x1="504.20" y1="347.50" x2="504.20" y2="350.60" stroke="#000" stroke-width="1.1"/>
<path d="M515 0L515 1237L197 1010L197 1180L530 1409L696 1409L696 0Z" transform="translate(497.36 360.60) scale(0.00400 -0.00400)" stroke="#231f20" stroke-width="0.18" vector-effect="non-scaling-stroke"/>
<text x="504.20" y="360.60" font-size="8.2" text-anchor="middle"> 00</text>
<text x="426.60" y="373.70" font-size="8.7" text-anchor="middle" font-weight="bold" textLength="97.1" lengthAdjust="spacingAndGlyphs" style="stroke-width:0.12px">Months from complete remission</text>
<text x="0" y="0" font-size="8.2" text-anchor="middle" font-weight="bold" textLength="45.6" lengthAdjust="spacingAndGlyphs" style="stroke-width:0px" transform="translate(318.60 286.60) rotate(-90)">Probability (%)</text>
<text x="267.90" y="228.00" font-size="11.6" text-anchor="start" font-weight="bold" fill="#000" style="stroke:#000;stroke-width:0.4px">D</text>
<line x1="349.60" y1="327.00" x2="359.40" y2="327.00" stroke="#2e3a58" stroke-width="1.2"/>
<line x1="349.60" y1="336.20" x2="359.40" y2="336.20" stroke="#6a1a35" stroke-width="1.2"/>
<text x="362.30" y="329.50" font-size="7.4" textLength="73.2" lengthAdjust="spacingAndGlyphs">low <tspan font-style="italic">BAALC</tspan> expression</text>
<text x="362.30" y="338.80" font-size="7.4" textLength="77.4" lengthAdjust="spacingAndGlyphs">high <tspan font-style="italic">BAALC</tspan> expression</text>
<path d="M515 0L515 1237L197 1010L197 1180L530 1409L696 1409L696 0Z" transform="translate(496.68 336.60) scale(0.00374 -0.00361)" stroke="#231f20" stroke-width="0.18" vector-effect="non-scaling-stroke"/>
<text x="472.20" y="336.60" font-size="7.4" textLength="33.0" lengthAdjust="spacingAndGlyphs"><tspan font-style="italic">P</tspan> = 0.0 9</text>
<text x="268.25" y="385.20" font-size="6.4" text-anchor="start" font-weight="bold" textLength="83.1" lengthAdjust="spacingAndGlyphs" fill="#000" style="stroke:#000;stroke-width:0.3px">Number of patients at risk:</text>
<text x="270.20" y="395.50" font-size="6.9" textLength="63.7" lengthAdjust="spacingAndGlyphs">low <tspan font-style="italic">BAALC</tspan> expression</text>
<text x="270.20" y="405.10" font-size="6.9" textLength="66.2" lengthAdjust="spacingAndGlyphs">high <tspan font-style="italic">BAALC</tspan> expression</text>
<text x="348.80" y="395.50" font-size="6.9" text-anchor="middle">30</text>
<text x="379.88" y="395.50" font-size="6.9" text-anchor="middle">20</text>
<text x="410.96" y="395.50" font-size="6.9" text-anchor="middle">7</text>
<text x="442.04" y="395.50" font-size="6.9" text-anchor="middle">2</text>
<path d="M515 0L515 1237L197 1010L197 1180L530 1409L696 1409L696 0Z" transform="translate(471.20 395.50) scale(0.00337 -0.00337)" stroke="#231f20" stroke-width="0.18" vector-effect="non-scaling-stroke"/>
<text x="473.12" y="395.50" font-size="6.9" text-anchor="middle"> </text>
<text x="504.20" y="395.50" font-size="6.9" text-anchor="middle">0</text>
<text x="348.80" y="405.10" font-size="6.9" text-anchor="middle">32</text>
<path d="M515 0L515 1237L197 1010L197 1180L530 1409L696 1409L696 0Z" transform="translate(376.04 405.10) scale(0.00337 -0.00337)" stroke="#231f20" stroke-width="0.18" vector-effect="non-scaling-stroke"/>
<text x="379.88" y="405.10" font-size="6.9" text-anchor="middle"> 9</text>
<text x="410.96" y="405.10" font-size="6.9" text-anchor="middle">7</text>
<path d="M515 0L515 1237L197 1010L197 1180L530 1409L696 1409L696 0Z" transform="translate(440.12 405.10) scale(0.00337 -0.00337)" stroke="#231f20" stroke-width="0.18" vector-effect="non-scaling-stroke"/>
<text x="442.04" y="405.10" font-size="6.9" text-anchor="middle"> </text>
<text x="473.12" y="405.10" font-size="6.9" text-anchor="middle">0</text>
<text x="504.20" y="405.10" font-size="6.9" text-anchor="middle">0</text>
<path d="M348.00 232.60 L359.30 232.60 L359.30 240.00 L362.30 240.00 L362.30 244.50 L363.80 244.50 L363.80 249.00 L366.70 249.00 L366.70 253.40 L380.20 253.40 L380.20 262.20 L395.20 262.20 L395.20 267.60 L401.50 267.60 L401.50 273.60 L406.70 273.60 L406.70 282.30 L445.90 282.30" fill="none" stroke="#9a2048" stroke-width="1.25" stroke-linejoin="miter"/>
<line x1="387.00" y1="260.90" x2="387.00" y2="263.50" stroke="#62082a" stroke-width="1.4"/>
<line x1="389.50" y1="260.90" x2="389.50" y2="263.50" stroke="#62082a" stroke-width="1.4"/>
<line x1="398.00" y1="266.30" x2="398.00" y2="268.90" stroke="#62082a" stroke-width="1.4"/>
<line x1="409.00" y1="281.00" x2="409.00" y2="283.60" stroke="#62082a" stroke-width="1.4"/>
<line x1="414.80" y1="281.00" x2="414.80" y2="283.60" stroke="#62082a" stroke-width="1.4"/>
<line x1="425.20" y1="281.00" x2="425.20" y2="283.60" stroke="#62082a" stroke-width="1.4"/>
<line x1="431.00" y1="281.00" x2="431.00" y2="283.60" stroke="#62082a" stroke-width="1.4"/>
<line x1="436.70" y1="281.00" x2="436.70" y2="283.60" stroke="#62082a" stroke-width="1.4"/>
<line x1="445.40" y1="281.00" x2="445.40" y2="283.60" stroke="#62082a" stroke-width="1.4"/>
<path d="M348.00 232.60 L359.30 232.60 L359.30 237.10 L388.80 237.10 L388.80 243.10 L492.10 243.10" fill="none" stroke="#3c4a6c" stroke-width="1.25" stroke-linejoin="miter"/>
<line x1="351.00" y1="231.30" x2="351.00" y2="233.90" stroke="#1c2844" stroke-width="1.4"/>
<line x1="353.00" y1="231.30" x2="353.00" y2="233.90" stroke="#1c2844" stroke-width="1.4"/>
<line x1="356.50" y1="231.30" x2="356.50" y2="233.90" stroke="#1c2844" stroke-width="1.4"/>
<line x1="373.50" y1="235.80" x2="373.50" y2="238.40" stroke="#1c2844" stroke-width="1.4"/>
<line x1="375.50" y1="235.80" x2="375.50" y2="238.40" stroke="#1c2844" stroke-width="1.4"/>
<line x1="395.40" y1="241.80" x2="395.40" y2="244.40" stroke="#1c2844" stroke-width="1.4"/>
<line x1="397.00" y1="241.80" x2="397.00" y2="244.40" stroke="#1c2844" stroke-width="1.4"/>
<line x1="400.20" y1="241.80" x2="400.20" y2="244.40" stroke="#1c2844" stroke-width="1.4"/>
<line x1="403.00" y1="241.80" x2="403.00" y2="244.40" stroke="#1c2844" stroke-width="1.4"/>
<line x1="406.00" y1="241.80" x2="406.00" y2="244.40" stroke="#1c2844" stroke-width="1.4"/>
<line x1="408.50" y1="241.80" x2="408.50" y2="244.40" stroke="#1c2844" stroke-width="1.4"/>
<line x1="410.80" y1="241.80" x2="410.80" y2="244.40" stroke="#1c2844" stroke-width="1.4"/>
<line x1="414.60" y1="241.80" x2="414.60" y2="244.40" stroke="#1c2844" stroke-width="1.4"/>
<line x1="420.40" y1="241.80" x2="420.40" y2="244.40" stroke="#1c2844" stroke-width="1.4"/>
<line x1="429.00" y1="241.80" x2="429.00" y2="244.40" stroke="#1c2844" stroke-width="1.4"/>
<line x1="439.60" y1="241.80" x2="439.60" y2="244.40" stroke="#1c2844" stroke-width="1.4"/>
<line x1="441.50" y1="241.80" x2="441.50" y2="244.40" stroke="#1c2844" stroke-width="1.4"/>
<line x1="491.50" y1="241.80" x2="491.50" y2="244.40" stroke="#1c2844" stroke-width="1.4"/>
<line x1="88.60" y1="27.30" x2="88.60" y2="36.50" stroke="#4a2a4a" stroke-width="1.5"/>
<path d="M0 0 H520 V414 H0 Z M1 1 V412.5 H518.5 V1 Z" fill="#000" fill-rule="evenodd"/>
</svg>
</body></html>
